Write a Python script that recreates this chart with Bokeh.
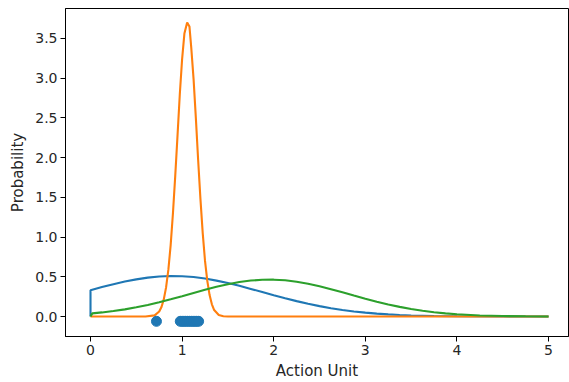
from bokeh.plotting import figure
from bokeh.models import Range1d, FixedTicker
from bokeh.embed import file_html
from bokeh.resources import INLINE

# Blue curve (truncated at 0)
blue_x = [0.0, 0.0, 0.125, 0.25, 0.375, 0.5, 0.625, 0.75, 0.875, 1.0, 1.125, 1.25,
          1.375, 1.5, 1.625, 1.75, 1.875, 2.0, 2.125, 2.25, 2.375, 2.5, 2.625, 2.75,
          2.875, 3.0, 3.125, 3.25, 3.375, 3.5, 3.75, 4.0, 4.5, 5.0]
blue_y = [0.0, 0.332, 0.371, 0.407, 0.441, 0.468, 0.490, 0.504, 0.510, 0.507, 0.497,
          0.478, 0.452, 0.421, 0.387, 0.348, 0.308, 0.268, 0.230, 0.194, 0.160, 0.131,
          0.105, 0.083, 0.064, 0.049, 0.037, 0.027, 0.020, 0.014, 0.007, 0.003, 0.0005, 0.0]

# Orange curve (narrow peak)
orange_x = [0.0, 0.5, 0.6, 0.7, 0.75, 0.775, 0.8, 0.825, 0.85, 0.875, 0.9, 0.925, 0.95,
            0.975, 1.0, 1.025, 1.055, 1.08, 1.1, 1.125, 1.15, 1.175, 1.2, 1.225, 1.25,
            1.275, 1.3, 1.325, 1.35, 1.4, 1.45, 1.5, 2.0, 3.0, 4.0, 5.0]
orange_y = [0.0, 0.0, 0.0005, 0.015, 0.063, 0.121, 0.216, 0.367, 0.59, 0.899, 1.30, 1.77,
            2.28, 2.80, 3.24, 3.56, 3.70, 3.65, 3.38, 2.99, 2.50, 1.97, 1.48, 1.05, 0.70,
            0.448, 0.27, 0.154, 0.082, 0.02, 0.004, 0.0005, 0.0, 0.0, 0.0, 0.0]

# Green curve
green_x = [0.0, 0.02, 0.125, 0.25, 0.375, 0.5, 0.625, 0.75, 0.875, 1.0, 1.125, 1.25,
           1.375, 1.5, 1.625, 1.75, 1.875, 2.0, 2.125, 2.25, 2.375, 2.5, 2.625, 2.75,
           2.875, 3.0, 3.125, 3.25, 3.375, 3.5, 3.625, 3.75, 3.875, 4.0, 4.25, 4.5, 4.75, 5.0]
green_y = [0.0, 0.04, 0.052, 0.069, 0.090, 0.116, 0.146, 0.180, 0.217, 0.256, 0.297,
           0.336, 0.374, 0.407, 0.434, 0.453, 0.463, 0.464, 0.456, 0.438, 0.413, 0.381,
           0.344, 0.305, 0.264, 0.224, 0.187, 0.152, 0.122, 0.095, 0.073, 0.055, 0.040,
           0.029, 0.014, 0.006, 0.003, 0.001]

# Sample points
pts_x = [0.72, 0.98, 1.0, 1.02, 1.04, 1.06, 1.08, 1.10, 1.12, 1.14, 1.16, 1.18]
pts_y = [-0.06] * len(pts_x)

x_ticks = [0, 1, 2, 3, 4, 5]
x_tick_labels = ["0", "1", "2", "3", "4", "5"]
y_ticks = [0.0, 0.5, 1.0, 1.5, 2.0, 2.5, 3.0, 3.5]
y_tick_labels = ["0.0", "0.5", "1.0", "1.5", "2.0", "2.5", "3.0", "3.5"]

BLUE = "#1f77b4"
ORANGE = "#ff7f0e"
GREEN = "#2ca02c"
TXT = "#262626"
FONT = "DejaVu Sans"

p = figure(width=569, height=382, output_backend="svg", toolbar_location=None,
           x_range=Range1d(-0.273, 5.218), y_range=Range1d(-0.251, 3.876),
           min_border_left=65, min_border_right=1, min_border_top=8, min_border_bottom=45)
p.background_fill_color = "white"
p.border_fill_color = "white"
p.outline_line_color = "#000000"
p.outline_line_width = 1
p.xgrid.visible = False
p.ygrid.visible = False

p.line(blue_x, blue_y, line_color=BLUE, line_width=2.1)
p.line(orange_x, orange_y, line_color=ORANGE, line_width=2.1)
p.line(green_x, green_y, line_color=GREEN, line_width=2.1)
p.scatter(pts_x, pts_y, size=10, fill_color=BLUE, line_color=BLUE)

for ax in (p.xaxis[0], p.yaxis[0]):
    ax.axis_line_color = "#000000"
    ax.major_tick_line_color = "#000000"
    ax.major_tick_out = 5
    ax.major_tick_in = 0
    ax.minor_tick_line_color = None
    ax.major_label_text_font = FONT
    ax.major_label_text_font_size = "14px"
    ax.major_label_text_color = TXT
    ax.axis_label_text_font = FONT
    ax.axis_label_text_font_size = "15px"
    ax.axis_label_text_font_style = "normal"
    ax.axis_label_text_color = TXT
    ax.major_label_standoff = 3

p.xaxis.axis_label_standoff = 4
p.yaxis.axis_label_standoff = 5
p.xaxis.ticker = FixedTicker(ticks=x_ticks)
p.xaxis.major_label_overrides = dict(zip(x_ticks, x_tick_labels))
p.yaxis.ticker = FixedTicker(ticks=y_ticks)
p.yaxis.major_label_overrides = dict(zip(y_ticks, y_tick_labels))
p.xaxis.axis_label = "Action Unit"
p.yaxis.axis_label = "Probability"

open("out.html", "w").write(file_html(p, INLINE))
